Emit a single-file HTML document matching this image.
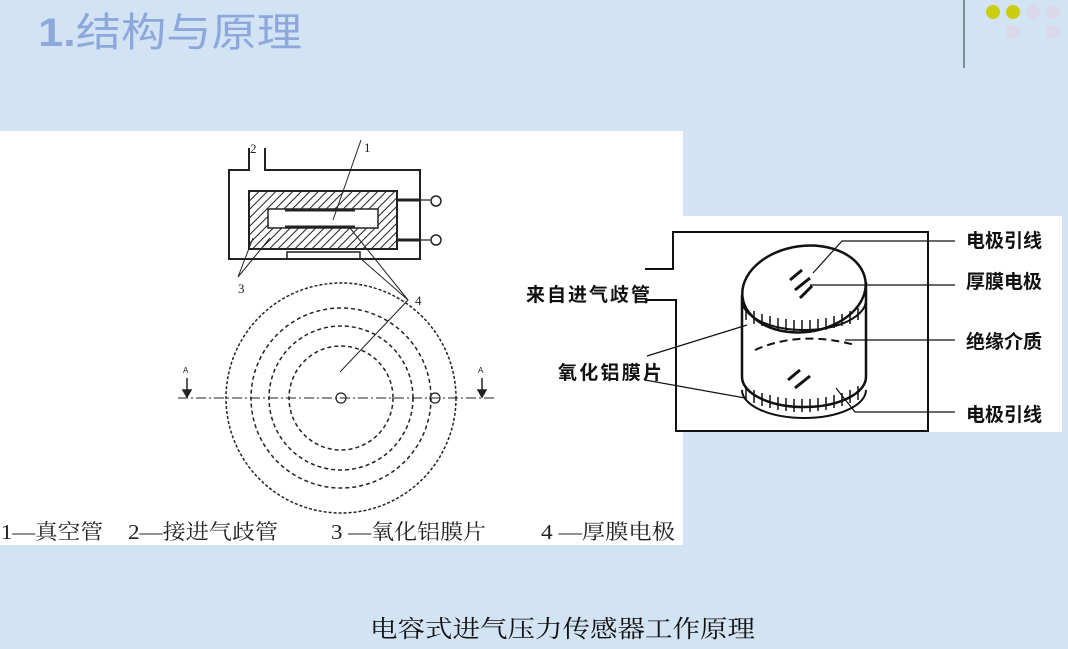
<!DOCTYPE html>
<html><head><meta charset="utf-8"><style>
body{margin:0;width:1068px;height:649px;overflow:hidden;background:#d2e3f4;font-family:"Liberation Serif","Noto Serif CJK SC",serif;}
svg{position:absolute;left:0;top:0}
</style></head><body>
<svg width="1068" height="649" viewBox="0 0 1068 649">
<defs>
<pattern id="h" width="6" height="6" patternUnits="userSpaceOnUse" patternTransform="rotate(45)"><rect width="6" height="6" fill="#fff"/><line x1="0" y1="0" x2="0" y2="6" stroke="#222" stroke-width="2"/></pattern>
</defs>
<rect width="1068" height="649" fill="#d2e3f4"/>
<text x="38" y="46" font-family="Liberation Sans,'Noto Sans CJK SC',sans-serif" font-size="40" font-weight="bold" fill="#8ea8dc" textLength="264" lengthAdjust="spacingAndGlyphs">1.<tspan font-weight="normal">结构与原理</tspan></text>
<line x1="964" y1="0" x2="964" y2="68" stroke="#333" stroke-width="1"/>
<circle cx="993" cy="12" r="7" fill="#cccc10"/><circle cx="1013" cy="12" r="7" fill="#cccc10"/>
<circle cx="1033" cy="12" r="7" fill="#dcd8ec"/><circle cx="1053" cy="12" r="7" fill="#dcd8ec"/>
<circle cx="1013" cy="32" r="7" fill="#dcd8ec"/><circle cx="1053" cy="32" r="7" fill="#dcd8ec"/>
<rect x="0" y="131" width="683" height="414" fill="#fff"/>
<rect x="675" y="216" width="387" height="216" fill="#fff"/>
<g stroke="#222" fill="none" stroke-width="2">
<path d="M249 148 V170 H229 V259 H420 V170 H265 V148"/>
<path d="M287 259 V252 H360 V259" stroke-width="1.5"/>
<rect x="249" y="191" width="148" height="58" fill="url(#h)"/>
<rect x="268" y="209" width="110" height="19" fill="#fff" stroke-width="1.5"/>
<line x1="285" y1="210" x2="355" y2="210" stroke-width="3"/>
<line x1="285" y1="227" x2="355" y2="227" stroke-width="3"/>
<path d="M397 200 H420 M397 240 H420" stroke-width="3"/>
<path d="M420 200 H430 M420 240 H430" stroke-width="1.2"/>
<circle cx="436" cy="201" r="5" stroke-width="1.5"/><circle cx="436" cy="240" r="5" stroke-width="1.5"/>
<path d="M361 140 L333 220" stroke-width="1"/>
<path d="M238 277 L253 238 M238 277 L270 238 M350 228 L408 300 M360 258 L408 300 L340 372" stroke-width="1"/>
</g>
<g font-size="13" fill="#222"><text x="250" y="153">2</text><text x="364" y="152">1</text><text x="238" y="293">3</text><text x="415" y="305">4</text></g>
<g stroke="#222" fill="none" stroke-width="1.5" stroke-dasharray="4 3">
<circle cx="341" cy="398" r="115" stroke-dasharray="3 2"/>
<circle cx="341" cy="398" r="90"/><circle cx="341" cy="398" r="72"/><circle cx="341" cy="398" r="52"/>
<line x1="178" y1="398" x2="495" y2="398" stroke-dasharray="10 3 2 3" stroke-width="1"/>
</g>
<circle cx="341" cy="398" r="5" fill="none" stroke="#222" stroke-width="1.2"/>
<circle cx="435" cy="398" r="5" fill="none" stroke="#222" stroke-width="1.2"/>
<g stroke="#222" stroke-width="1.5" fill="#222">
<line x1="187" y1="378" x2="187" y2="392"/><path d="M183 390 L191 390 L187 397Z"/>
<line x1="482" y1="378" x2="482" y2="392"/><path d="M478 390 L486 390 L482 397Z"/>
</g>
<g font-size="8" font-family="Liberation Sans,sans-serif" fill="#222"><text x="183" y="373">A</text><text x="478" y="373">A</text></g>
<g font-size="21" fill="#222" font-family="'Liberation Serif','Noto Serif CJK SC',serif">
<text x="1" y="539" textLength="102" lengthAdjust="spacingAndGlyphs">1—真空管</text>
<text x="128" y="539" textLength="150" lengthAdjust="spacingAndGlyphs">2—接进气歧管</text>
<text x="331" y="539" textLength="155" lengthAdjust="spacingAndGlyphs">3 —氧化铝膜片</text>
<text x="541" y="539" textLength="134" lengthAdjust="spacingAndGlyphs">4 —厚膜电极</text>
</g>
<g stroke="#111" fill="none" stroke-width="2">
<path d="M645 269 H673 V232 H928 V431 H676 V300 H645"/>
<ellipse cx="804" cy="289" rx="62" ry="43" fill="#fff" stroke-width="2.5" transform="rotate(-8 804 289)"/>
<path d="M742 295 V377 M866 282 V377" stroke-width="2.5"/>
<path d="M742 377 A62 30 0 0 0 866 377" stroke-width="2.5"/>
<path d="M742 300 A62 30 0 0 0 866 300" stroke-width="2"/>
<path d="M742 390 A62 28 0 0 0 866 390"/>
<path d="M755 350 Q800 330 855 345" stroke-dasharray="8 5"/>
<path d="M790 280 l12 -10 M795 290 l15 -12 M800 298 l12 -12" stroke-width="3"/>
<path d="M788 380 l12 -10 M795 388 l15 -12" stroke-width="3"/>
<g stroke-width="1.2"><path d="M813 273 L842 241 H955 M810 285 H955 M845 340 H955 M836 388 L855 412 H955 M747 325 L647 356 M745 398 L645 380"/></g>
</g>
<g stroke="#111" stroke-width="1.5">
<path d="M746 308 V320 M754 311 V324 M762 314 V326 M770 316 V328 M778 318 V330 M786 319 V331 M794 320 V332 M802 320 V332 M810 320 V332 M818 319 V331 M826 318 V330 M834 316 V328 M842 314 V326 M850 311 V324 M858 308 V320"/>
<path d="M746 386 V400 M754 390 V403 M762 393 V406 M770 395 V408 M778 397 V410 M786 398 V411 M794 399 V412 M802 399 V412 M810 399 V412 M818 398 V411 M826 397 V410 M834 395 V408 M842 393 V406 M850 390 V403 M858 386 V400"/>
</g>
<g font-size="19" font-weight="bold" fill="#111" font-family="'Noto Sans CJK SC',sans-serif" lengthAdjust="spacing">
<text x="526" y="301" textLength="124">来自进气歧管</text><text x="558" y="379" textLength="104">氧化铝膜片</text>
<text x="966" y="247" textLength="76">电极引线</text><text x="966" y="288" textLength="76">厚膜电极</text><text x="966" y="348" textLength="76">绝缘介质</text><text x="966" y="421" textLength="76">电极引线</text>
</g>
<text x="370" y="637" font-size="24" textLength="385" lengthAdjust="spacingAndGlyphs" fill="#111" font-family="'Noto Serif CJK SC',serif">电容式进气压力传感器工作原理</text>
</svg>
</body></html>
